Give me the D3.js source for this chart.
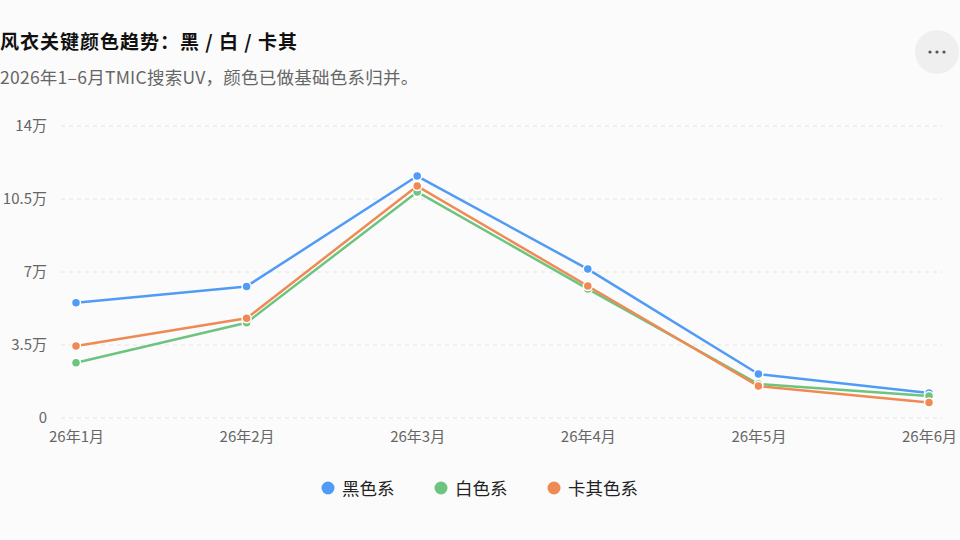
<!DOCTYPE html>
<html>
<head>
<meta charset="utf-8">
<script src="https://cdn.jsdelivr.net/npm/d3@7"></script>
<style>
  html, body { margin: 0; padding: 0; background: #fbfbfb; }
  body { width: 960px; height: 540px; overflow: hidden; font-family: "Noto Sans CJK SC", "Noto Sans", sans-serif; }
</style>
</head>
<body>
<div id="chart"></div>
<script>
// data (UV)
const months = ["26年1月", "26年2月", "26年3月", "26年4月", "26年5月", "26年6月"];
const seriesNames = ["黑色系", "白色系", "卡其色系"];
const blackVals = [55300, 63100, 116000, 71400, 21100, 12000];
const whiteVals = [26500, 45700, 108400, 61900, 16300, 10500];
const khakiVals = [34500, 47800, 111200, 63300, 15300, 7400];
const yTicks = [0, 35000, 70000, 105000, 140000];
const colors = ["#4f9bf6", "#6cc47f", "#ef8a55"];

const series = [blackVals, whiteVals, khakiVals].map((vals, i) => ({
  name: seriesNames[i],
  color: colors[i],
  values: vals.map((v, j) => ({ month: months[j], value: v }))
}));

const width = 960, height = 540;
const svg = d3.select("#chart")
  .append("svg")
  .attr("width", width)
  .attr("height", height);

// title
svg.append("text")
  .attr("x", 0).attr("y", 49)
  .attr("font-size", 19).attr("font-weight", "bold")
  .attr("letter-spacing", 1)
  .attr("fill", "#111")
  .text("风衣关键颜色趋势：黑 / 白 / 卡其");

svg.append("text")
  .attr("x", 0).attr("y", 84)
  .attr("font-size", 17.5)
  .attr("letter-spacing", 0.25)
  .attr("fill", "#666")
  .text("2026年1–6月TMIC搜索UV，颜色已做基础色系归并。");

// menu button
const menu = svg.append("g").attr("transform", "translate(937,52)");
menu.append("circle").attr("r", 22).attr("fill", "#efefef");
menu.selectAll("circle.dot")
  .data([-7, 0, 7])
  .enter().append("circle")
  .attr("class", "dot")
  .attr("cx", d => d).attr("r", 1.6)
  .attr("fill", "#555");

// scales
const x = d3.scalePoint()
  .domain(months)
  .range([76, 929]);

const y = d3.scaleLinear()
  .domain([0, 140000])
  .range([418, 126]);

// grid
svg.append("g")
  .selectAll("line")
  .data(yTicks)
  .enter().append("line")
  .attr("x1", 61).attr("x2", 942)
  .attr("y1", d => y(d)).attr("y2", d => y(d))
  .attr("stroke", "#e4e4e4")
  .attr("stroke-dasharray", "4,4");

// y axis
const fmt = d => d === 0 ? "0" : (d / 10000) + "万";
const yAxis = svg.append("g")
  .attr("transform", "translate(47,0)")
  .call(d3.axisLeft(y).tickValues(yTicks).tickFormat(fmt).tickSize(0).tickPadding(0));
yAxis.select(".domain").remove();
yAxis.selectAll("text")
  .attr("font-size", 15)
  .attr("fill", "#666")
  .attr("font-family", "'Noto Sans CJK SC', sans-serif");

// x axis
const xAxis = svg.append("g")
  .attr("transform", "translate(0,418)")
  .call(d3.axisBottom(x).tickSize(0).tickPadding(13));
xAxis.select(".domain").remove();
xAxis.selectAll("text")
  .attr("font-size", 15)
  .attr("fill", "#666")
  .attr("font-family", "'Noto Sans CJK SC', sans-serif");

// lines
const line = d3.line()
  .x(d => x(d.month))
  .y(d => y(d.value));

const g = svg.selectAll("g.series")
  .data(series)
  .enter().append("g")
  .attr("class", "series");

g.append("path")
  .attr("d", d => line(d.values))
  .attr("fill", "none")
  .attr("stroke", d => d.color)
  .attr("stroke-width", 2.5)
  .attr("stroke-linejoin", "round");

g.selectAll("circle")
  .data(d => d.values.map(v => ({ ...v, color: d.color })))
  .enter().append("circle")
  .attr("cx", d => x(d.month))
  .attr("cy", d => y(d.value))
  .attr("r", 4.5)
  .attr("fill", d => d.color)
  .attr("stroke", "#fff")
  .attr("stroke-width", 1.5);

// legend
const legendX = [328, 441, 554];
const legend = svg.selectAll("g.legend")
  .data(series)
  .enter().append("g")
  .attr("class", "legend")
  .attr("transform", (d, i) => `translate(${legendX[i]},488)`);

legend.append("circle")
  .attr("r", 6.5)
  .attr("fill", d => d.color);

legend.append("text")
  .attr("x", 14).attr("y", 6.5)
  .attr("font-size", 17.5)
  .attr("fill", "#222")
  .text(d => d.name);
</script>
</body>
</html>
